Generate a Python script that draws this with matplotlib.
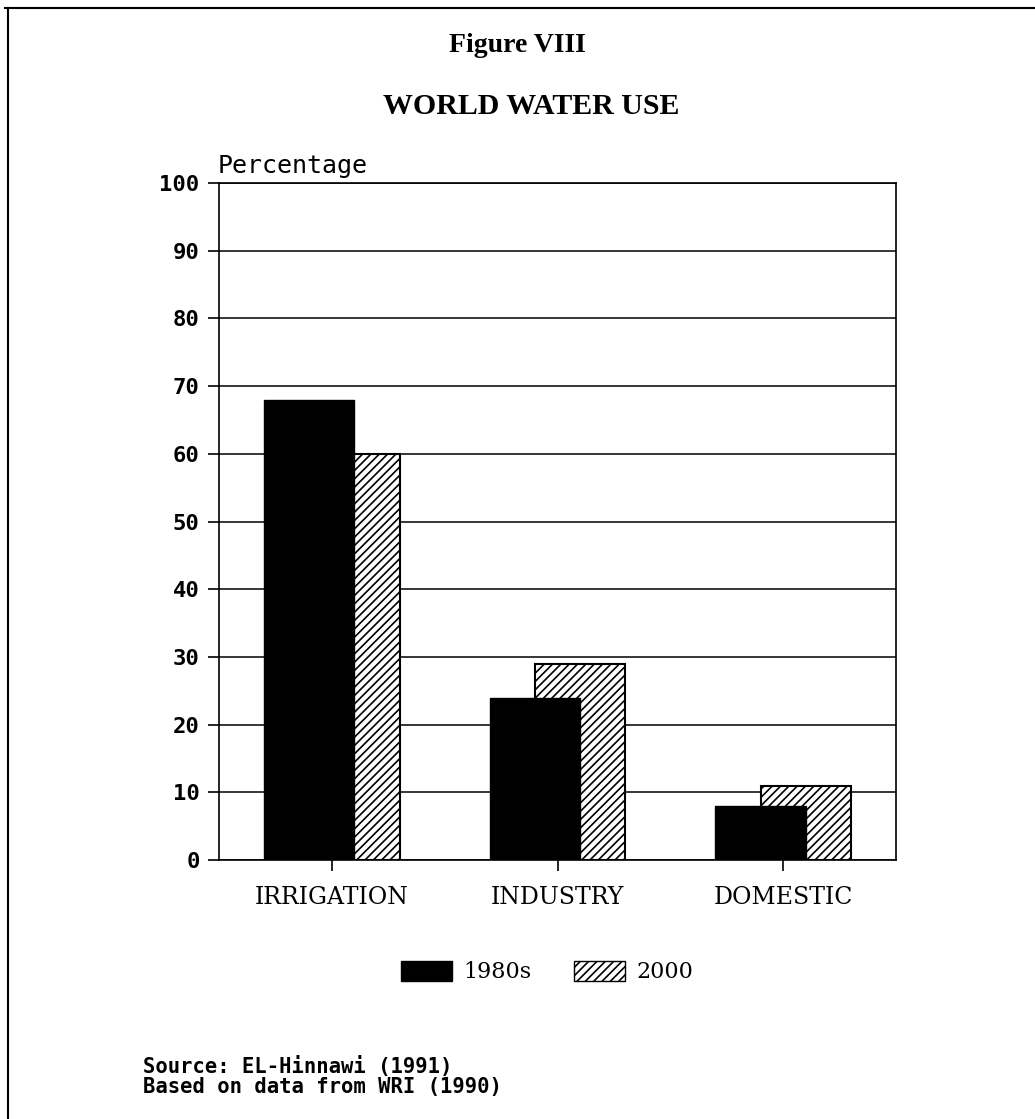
import matplotlib.pyplot as plt
from matplotlib.patches import Patch
from matplotlib.lines import Line2D
import numpy as np

# data
categories = ["IRRIGATION", "INDUSTRY", "DOMESTIC"]
use_1980s = [68, 24, 8]
use_2000 = [60, 29, 11]
yticks = [0, 10, 20, 30, 40, 50, 60, 70, 80, 90, 100]

plt.rcParams['hatch.linewidth'] = 1.2
plt.rcParams['hatch.color'] = 'black'

W, H = 1035, 1119
fig = plt.figure(figsize=(W / 100, H / 100), dpi=100)
fig.patch.set_facecolor('white')

ax = fig.add_axes([219 / W, 1 - 860 / H, (896 - 219) / W, (860 - 183) / H])

x = np.arange(len(categories))
width = 0.4

# 2000 bars sit behind the 1980s bars
ax.bar(x + 0.1, use_2000, width, facecolor='white', edgecolor='black',
       hatch='////', linewidth=1.5, zorder=2)
ax.bar(x - 0.1, use_1980s, width, color='black', edgecolor='black',
       linewidth=1, zorder=3)

ax.set_xlim(-0.5, 2.5)
ax.set_ylim(0, 100)
ax.set_yticks(yticks)
ax.set_yticklabels([str(t) for t in yticks], family='DejaVu Sans Mono',
                   fontweight='bold', fontsize=16)
ax.set_xticks(x)
ax.set_xticklabels(categories, family='DejaVu Serif', fontsize=17)
ax.tick_params(axis='y', direction='out', length=8, width=1.2, pad=6)
ax.tick_params(axis='x', direction='out', length=8, width=1.2, pad=11)
ax.yaxis.grid(True, color='black', linewidth=1.1, zorder=0)
ax.set_axisbelow(True)
for s in ax.spines.values():
    s.set_linewidth(1.2)
    s.set_color('black')

# titles and axis caption
fig.text(517 / W, 1 - 45 / H, "Figure VIII", ha='center', va='center',
         family='Liberation Serif', fontweight='bold', fontsize=20)
fig.text(531 / W, 1 - 107 / H, "WORLD WATER USE", ha='center', va='center',
         family='Liberation Serif', fontweight='bold', fontsize=21.5)
fig.text(218 / W, 1 - 166 / H, "Percentage", ha='left', va='center',
         family='DejaVu Sans Mono', fontsize=18)

# legend
handles = [Patch(facecolor='black', edgecolor='black'),
           Patch(facecolor='white', edgecolor='black', hatch='////')]
fig.legend(handles, ["1980s", "2000"], loc='center', ncol=2,
           bbox_to_anchor=(547 / W, 1 - 972 / H), frameon=False,
           prop={'family': 'DejaVu Serif', 'size': 16},
           handlelength=2.3, handleheight=1.0, handletextpad=0.5,
           columnspacing=1.9)

# source notes
fig.text(143 / W, 1 - 1067 / H, "Source: EL-Hinnawi (1991)", ha='left',
         va='center', family='DejaVu Sans Mono', fontweight='bold', fontsize=14.8)
fig.text(143 / W, 1 - 1087 / H, "Based on data from WRI (1990)", ha='left',
         va='center', family='DejaVu Sans Mono', fontweight='bold', fontsize=14.8)

# page border (top and left edges of the scanned frame)
fig.add_artist(Line2D([5 / W, 1.0], [1 - 8 / H, 1 - 8 / H], color='black',
                      linewidth=1.5, transform=fig.transFigure))
fig.add_artist(Line2D([8 / W, 8 / W], [0, 1 - 8 / H], color='black',
                      linewidth=1.5, transform=fig.transFigure))

fig.savefig("out.png", dpi=100)
